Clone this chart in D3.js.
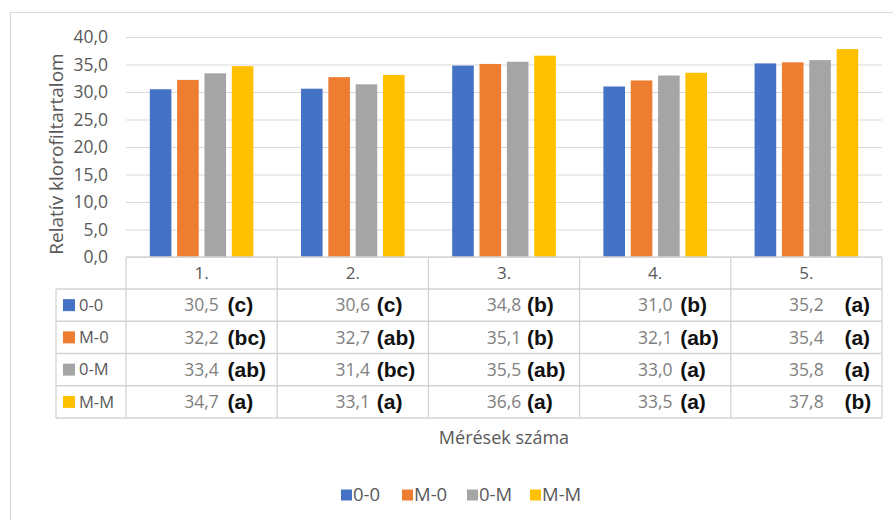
<!DOCTYPE html>
<html>
<head>
<meta charset="utf-8">
<script src="https://cdn.jsdelivr.net/npm/d3@7"></script>
<style>
  html, body { margin: 0; padding: 0; background: #fff; }
  svg { display: block; font-family: "Open Sans", sans-serif; }
</style>
</head>
<body>
<svg id="chart" width="893" height="520"></svg>
<script>
// Measurement rounds (x-axis categories)
const categories = ["1.", "2.", "3.", "4.", "5."];
// Treatments
const seriesNames = ["0-0", "M-0", "0-M", "M-M"];
const seriesColors = ["#4472C4", "#ED7D31", "#A5A5A5", "#FFC000"];
// Relative chlorophyll content per treatment and measurement
const values00 = [30.5, 30.6, 34.8, 31.0, 35.2];
const valuesM0 = [32.2, 32.7, 35.1, 32.1, 35.4];
const values0M = [33.4, 31.4, 35.5, 33.0, 35.8];
const valuesMM = [34.7, 33.1, 36.6, 33.5, 37.8];
// Significance letters per treatment and measurement
const letters00 = ["(c)", "(c)", "(b)", "(b)", "(a)"];
const lettersM0 = ["(bc)", "(ab)", "(b)", "(ab)", "(a)"];
const letters0M = ["(ab)", "(bc)", "(ab)", "(a)", "(a)"];
const lettersMM = ["(a)", "(a)", "(a)", "(a)", "(b)"];
// Y axis ticks
const yTicks = [0, 5, 10, 15, 20, 25, 30, 35, 40];
const yTitle = "Relatív klorofiltartalom";
const xTitle = "Mérések száma";

const seriesValues = [values00, valuesM0, values0M, valuesMM];
const seriesLetters = [letters00, lettersM0, letters0M, lettersMM];

// Layout
const plot = { left: 126, right: 882, top: 37, bottom: 257 };
const tableLeft = 56;
const headerBottom = 289;
const rowH = 32.25;
const letterOffset = [26, 24, 23, 25, 38]; // letters' x offset from cell centre

const locale = d3.formatLocale({ decimal: ",", thousands: " ", grouping: [3], currency: ["", ""] });
const fmt = locale.format(".1f");

const svg = d3.select("#chart");
const gridColor = "#d9d9d9";
const tableColor = "#d4d4d4";

// Outer chart frame
svg.append("rect")
  .attr("x", 10.5).attr("y", 12.5)
  .attr("width", 900).attr("height", 520)
  .attr("fill", "none").attr("stroke", gridColor).attr("stroke-width", 1);

const y = d3.scaleLinear().domain([0, 40]).range([plot.bottom, plot.top]);
const x0 = d3.scaleBand().domain(categories).range([plot.left, plot.right]).padding(0);
const x1 = d3.scaleBand().domain(seriesNames).range([0, x0.bandwidth()])
  .paddingInner(0.21).paddingOuter(0.87);

// Gridlines
svg.append("g")
  .attr("transform", `translate(${plot.left},0)`)
  .call(d3.axisLeft(y).tickValues(yTicks).tickSize(-(plot.right - plot.left)).tickFormat(""))
  .call(g => g.select(".domain").remove())
  .call(g => g.selectAll("line").attr("stroke", gridColor).attr("stroke-width", 1.2));

// Y tick labels
svg.append("g")
  .attr("transform", `translate(${plot.left},0)`)
  .call(d3.axisLeft(y).tickValues(yTicks).tickSize(0).tickPadding(18).tickFormat(fmt))
  .call(g => g.select(".domain").remove())
  .call(g => g.selectAll("text")
    .attr("fill", "#595959").style("font-size", "17.5px").style("font-family", "Open Sans"));

// Bars
const groups = svg.append("g").selectAll("g")
  .data(categories)
  .join("g")
  .attr("transform", d => `translate(${x0(d)},0)`);

groups.selectAll("rect")
  .data((c, ci) => seriesNames.map((s, si) => ({ s, si, v: seriesValues[si][ci] })))
  .join("rect")
  .attr("x", d => x1(d.s))
  .attr("width", x1.bandwidth())
  .attr("y", d => y(d.v))
  .attr("height", d => y(0) - y(d.v))
  .attr("fill", d => seriesColors[d.si]);

// Data table lines
const tg = svg.append("g").attr("stroke", tableColor).attr("stroke-width", 1.3);
const tableBottom = headerBottom + rowH * seriesNames.length;
tg.append("line").attr("x1", plot.left).attr("x2", plot.right).attr("y1", plot.bottom).attr("y2", plot.bottom);
for (let r = 0; r <= seriesNames.length; r++) {
  const yy = headerBottom + r * rowH;
  tg.append("line").attr("x1", tableLeft).attr("x2", plot.right).attr("y1", yy).attr("y2", yy);
}
tg.append("line").attr("x1", tableLeft).attr("x2", tableLeft).attr("y1", headerBottom).attr("y2", tableBottom);
categories.forEach(c => {
  tg.append("line").attr("x1", x0(c)).attr("x2", x0(c)).attr("y1", plot.bottom).attr("y2", tableBottom);
});
tg.append("line").attr("x1", plot.right).attr("x2", plot.right).attr("y1", plot.bottom).attr("y2", tableBottom);

// Category header labels
svg.append("g")
  .attr("transform", `translate(0,${plot.bottom})`)
  .call(d3.axisBottom(x0).tickSize(0).tickPadding(10))
  .call(g => g.select(".domain").remove())
  .call(g => g.selectAll("text")
    .attr("fill", "#595959").style("font-size", "17px").style("font-family", "Open Sans"));

// Table rows: legend key, values and letters
seriesNames.forEach((s, si) => {
  const cy = headerBottom + si * rowH + rowH / 2;
  svg.append("rect")
    .attr("x", 63).attr("y", cy - 6).attr("width", 12).attr("height", 12)
    .attr("fill", seriesColors[si]);
  svg.append("text")
    .attr("x", 79).attr("y", cy).attr("dy", "0.35em")
    .attr("fill", "#595959").style("font-size", "16.5px")
    .text(s);
  categories.forEach((c, ci) => {
    const cx = x0(c) + x0.bandwidth() / 2;
    svg.append("text")
      .attr("x", cx).attr("y", cy).attr("dy", "0.35em")
      .attr("text-anchor", "middle")
      .attr("fill", "#7f7f7f").style("font-size", "17.5px")
      .text(fmt(seriesValues[si][ci]));
    svg.append("text")
      .attr("x", cx + letterOffset[ci]).attr("y", cy).attr("dy", "0.35em")
      .attr("fill", "#111").style("font-size", "21px").style("font-weight", "bold")
      .style("font-family", "Liberation Sans")
      .text(seriesLetters[si][ci]);
  });
});

// Axis titles
svg.append("text")
  .attr("transform", `translate(56,${(plot.top + plot.bottom) / 2 + 7}) rotate(-90)`)
  .attr("text-anchor", "middle").attr("dy", "0.35em")
  .attr("fill", "#595959").style("font-size", "19px")
  .text(yTitle);

svg.append("text")
  .attr("x", (plot.left + plot.right) / 2).attr("y", 438).attr("dy", "0.35em")
  .attr("text-anchor", "middle")
  .attr("fill", "#595959").style("font-size", "18px")
  .text(xTitle);

// Bottom legend
const legendX = [341, 402, 467, 530];
const legend = svg.append("g");
seriesNames.forEach((s, i) => {
  legend.append("rect")
    .attr("x", legendX[i]).attr("y", 495 - 5.5).attr("width", 11).attr("height", 11)
    .attr("fill", seriesColors[i]);
  legend.append("text")
    .attr("x", legendX[i] + 12).attr("y", 495).attr("dy", "0.35em")
    .attr("fill", "#595959").style("font-size", "18.5px")
    .text(s);
});
</script>
</body>
</html>
